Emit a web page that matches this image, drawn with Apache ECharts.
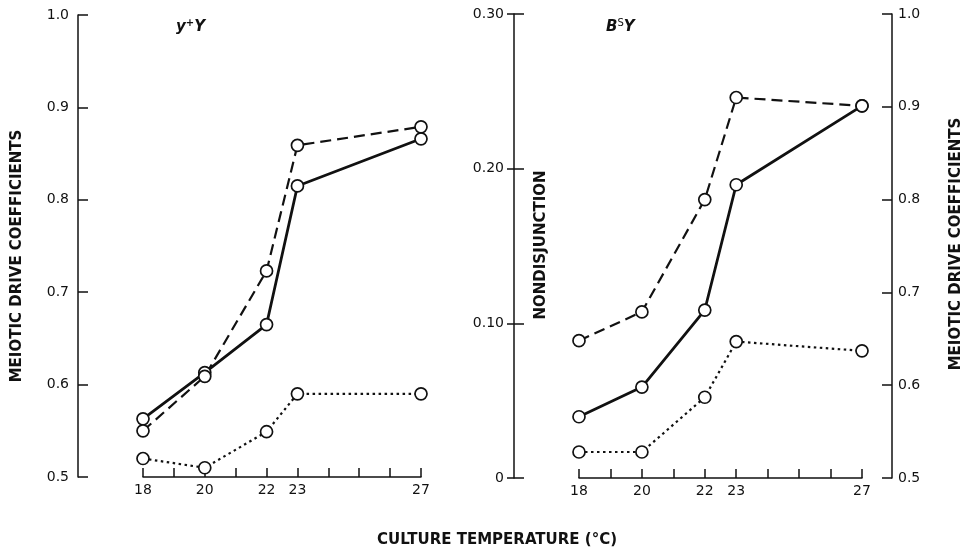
<!DOCTYPE html>
<html>
<head>
<meta charset="utf-8">
<script src="https://cdn.jsdelivr.net/npm/echarts@6/dist/echarts.min.js"></script>
<style>
  html, body { margin: 0; padding: 0; background: #fff; }
  #chart { width: 965px; height: 550px; }
</style>
</head>
<body>
<div id="chart"></div>
<script>
// culture temperatures (deg C) and the labelled ticks
var temps = [18, 20, 22, 23, 27];
var xTickLabels = [18, 20, 22, 23, 27];

// y+Y panel, meiotic drive coefficients
var yY_solid  = [0.563, 0.613, 0.665, 0.815, 0.866];
var yY_dashed = [0.550, 0.609, 0.723, 0.859, 0.879];
var yY_dotted = [0.520, 0.510, 0.549, 0.590, 0.590];

// BsY panel, meiotic drive coefficients (right axis)
var BsY_solid  = [0.566, 0.598, 0.681, 0.816, 0.901];
var BsY_dashed = [0.648, 0.679, 0.800, 0.910, 0.901];
var BsY_dotted = [0.528, 0.528, 0.587, 0.647, 0.637];

var ink = '#111';
var font = 'DejaVu Sans';

function pairs(xs, ys) {
    return xs.map(function (x, i) { return [x, ys[i]]; });
}

function lineSeries(grid, yIdx, values, type) {
    var ls = { color: ink, width: 2.8, type: 'solid' };
    if (type === 'dashed') { ls.type = [11, 6]; ls.width = 2.2; }
    if (type === 'dotted') { ls.type = [2.5, 3.5]; ls.width = 2.2; }
    return {
        type: 'line',
        xAxisIndex: grid,
        yAxisIndex: yIdx,
        data: pairs(temps, values),
        symbol: 'circle',
        symbolSize: 12,
        itemStyle: { color: '#fff', borderColor: ink, borderWidth: 1.7 },
        lineStyle: ls,
        z: 3,
        animation: false
    };
}

var xAxisBase = {
    type: 'value',
    min: 18,
    max: 27,
    interval: 1,
    axisLine: { show: true, lineStyle: { color: ink, width: 1.5 } },
    axisTick: { show: true, inside: true, length: 9, lineStyle: { color: ink, width: 1.5 } },
    axisLabel: {
        color: ink, fontFamily: font, fontSize: 14, margin: 6,
        formatter: function (v) { return xTickLabels.indexOf(v) >= 0 ? String(v) : ''; }
    },
    splitLine: { show: false }
};

function yAxisMD(grid, pos, offset, labelMargin) {
    return {
        type: 'value',
        gridIndex: grid,
        position: pos,
        offset: offset,
        min: 0.5,
        max: 1.0,
        interval: 0.1,
        axisLine: { show: true, lineStyle: { color: ink, width: 1.5 } },
        axisTick: { show: true, inside: true, length: 10, lineStyle: { color: ink, width: 1.5 } },
        axisLabel: {
            color: ink, fontFamily: font, fontSize: 14, margin: labelMargin,
            formatter: function (v) { return v.toFixed(1); }
        },
        splitLine: { show: false }
    };
}

var titleStyle = { fontFamily: font, fontSize: 15, fontWeight: 'bold', fill: ink, align: 'center', verticalAlign: 'middle' };

function vText(x, y, text) {
    return {
        type: 'text', x: x, y: y, rotation: Math.PI / 2,
        style: Object.assign({ text: text }, titleStyle)
    };
}

var chart = echarts.init(document.getElementById('chart'));

var option = {
    backgroundColor: '#fff',
    animation: false,
    grid: [
        { left: 143, top: 15, width: 278, height: 462 },
        { left: 579, top: 14, width: 283, height: 464 }
    ],
    xAxis: [
        Object.assign({ gridIndex: 0 }, xAxisBase),
        Object.assign({ gridIndex: 1 }, xAxisBase)
    ],
    yAxis: [
        yAxisMD(0, 'left', 65, 9),
        {
            type: 'value', gridIndex: 1, position: 'left', offset: 65,
            min: 0, max: 0.3, interval: 0.1,
            axisLine: { show: true, lineStyle: { color: ink, width: 1.5 } },
            axisTick: { show: true, inside: false, length: 7, lineStyle: { color: ink, width: 1.5 } },
            axisLabel: {
                color: ink, fontFamily: font, fontSize: 14, margin: 10,
                formatter: function (v) { return v === 0 ? '0' : v.toFixed(2); }
            },
            splitLine: { show: false }
        },
        {
            // inner half of the crossing ticks on the nondisjunction axis
            type: 'value', gridIndex: 1, position: 'left', offset: 65,
            min: 0, max: 0.3, interval: 0.1,
            axisLine: { show: false },
            axisTick: { show: true, inside: true, length: 10, lineStyle: { color: ink, width: 1.5 } },
            axisLabel: { show: false },
            splitLine: { show: false }
        },
        yAxisMD(1, 'right', 30, 6)
    ],
    graphic: [
        {
            type: 'text', left: 176, top: 18,
            style: {
                text: '{a|y}{s|+}{a|Y}',
                rich: {
                    a: { fontFamily: font, fontSize: 15, fontStyle: 'italic', fontWeight: 'bold', fill: ink },
                    s: { fontFamily: font, fontSize: 10, fontWeight: 'bold', fill: ink, verticalAlign: 'top', padding: [0, 0, 8, 0] }
                }
            }
        },
        {
            type: 'text', left: 606, top: 18,
            style: {
                text: '{a|B}{s|S}{a|Y}',
                rich: {
                    a: { fontFamily: font, fontSize: 15, fontStyle: 'italic', fontWeight: 'bold', fill: ink },
                    s: { fontFamily: font, fontSize: 10, fill: ink, verticalAlign: 'top', padding: [0, 0, 8, 0] }
                }
            }
        },
        vText(17, 256, 'MEIOTIC DRIVE COEFFICIENTS'),
        vText(541, 245, 'NONDISJUNCTION'),
        vText(956, 244, 'MEIOTIC DRIVE COEFFICIENTS'),
        {
            type: 'text', x: 497, y: 540,
            style: { text: 'CULTURE TEMPERATURE (°C)', fontFamily: font, fontSize: 15, fontWeight: 'bold', fill: ink, align: 'center', verticalAlign: 'middle' }
        }
    ],
    series: [
        lineSeries(0, 0, yY_solid, 'solid'),
        lineSeries(0, 0, yY_dashed, 'dashed'),
        lineSeries(0, 0, yY_dotted, 'dotted'),
        lineSeries(1, 3, BsY_solid, 'solid'),
        lineSeries(1, 3, BsY_dashed, 'dashed'),
        lineSeries(1, 3, BsY_dotted, 'dotted')
    ]
};

chart.setOption(option);
</script>
</body>
</html>
